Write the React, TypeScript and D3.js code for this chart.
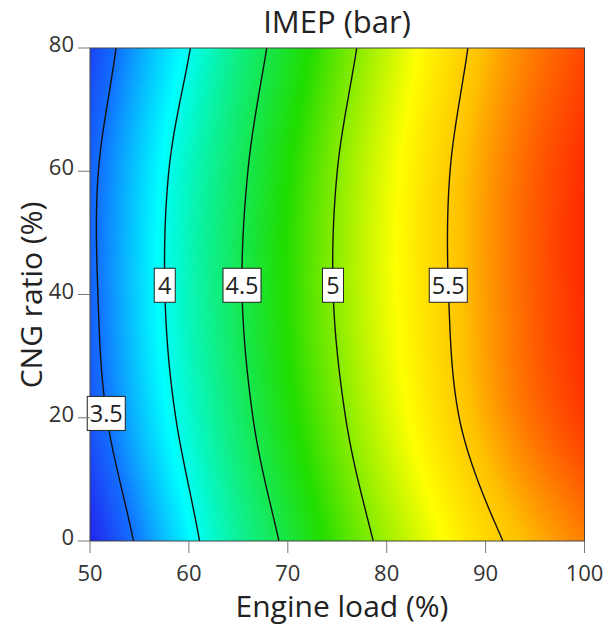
import React, { useMemo } from "react";
import * as d3 from "d3";

// Engine load grid (%) and CNG ratio rows (%)
const LOADS = [50, 55, 60, 65, 70, 75, 80, 85, 90, 95, 100];
const CNG = [0, 20, 40, 60, 80];

// IMEP (bar) along engine load, one array per CNG ratio row
const IMEP_CNG0 = [3.139, 3.548, 3.923, 4.265, 4.55, 4.83, 5.06, 5.27, 5.45, 5.58, 5.69];
const IMEP_CNG20 = [3.369, 3.748, 4.088, 4.41, 4.703, 4.958, 5.199, 5.412, 5.591, 5.732, 5.839];
const IMEP_CNG40 = [3.439, 3.818, 4.163, 4.477, 4.763, 5.02, 5.254, 5.454, 5.626, 5.767, 5.874];
const IMEP_CNG60 = [3.439, 3.798, 4.133, 4.442, 4.736, 5.0, 5.241, 5.448, 5.621, 5.762, 5.869];
const IMEP_CNG80 = [3.299, 3.673, 3.99, 4.33, 4.62, 4.898, 5.149, 5.377, 5.561, 5.702, 5.809];
const IMEP_ROWS = [IMEP_CNG0, IMEP_CNG20, IMEP_CNG40, IMEP_CNG60, IMEP_CNG80];

// Contour levels and where their labels sit (CNG ratio)
const CONTOUR_LEVELS = [3.5, 4, 4.5, 5, 5.5];
const LABEL_CNG = [20.7, 41.5, 41.5, 41.5, 41.5];

const X_TICKS = [50, 60, 70, 80, 90, 100];
const Y_TICKS = [0, 20, 40, 60, 80];

// Colour stops (IMEP value -> colour)
const COLOR_VALUES = [3.14, 3.5, 3.95, 4.75, 5.3, 5.55, 5.88];
const COLOR_STOPS = ["#2424ee", "#1470ff", "#00ffff", "#22dd00", "#ffff00", "#ffc000", "#ff2800"];

const W = 607;
const H = 633;
const FONT = "'Open Sans', 'Noto Sans', sans-serif";

function catmull(xs: number[], ys: number[], x: number): number {
  const n = ys.length;
  const dx = xs[1] - xs[0];
  const t = (x - xs[0]) / dx;
  let k = Math.floor(t);
  k = Math.max(0, Math.min(n - 2, k));
  const u = t - k;
  const p1 = ys[k];
  const p2 = ys[k + 1];
  const p0 = k - 1 >= 0 ? ys[k - 1] : 2 * p1 - p2;
  const p3 = k + 2 < n ? ys[k + 2] : 2 * p2 - p1;
  return (
    0.5 *
    (2 * p1 +
      (-p0 + p2) * u +
      (2 * p0 - 5 * p1 + 4 * p2 - p3) * u * u +
      (-p0 + 3 * p1 - 3 * p2 + p3) * u * u * u)
  );
}

function imepAt(load: number, cng: number): number {
  const col = IMEP_ROWS.map((row) => catmull(LOADS, row, load));
  return catmull(CNG, col, cng);
}

function crossing(level: number, cng: number): number {
  let lo = 40;
  let hi = 110;
  for (let i = 0; i < 50; i++) {
    const mid = (lo + hi) / 2;
    if (imepAt(mid, cng) < level) lo = mid;
    else hi = mid;
  }
  return (lo + hi) / 2;
}

export default function App() {
  const x = d3.scaleLinear().domain([50, 100]).range([90, 584.5]);
  const y = d3.scaleLinear().domain([0, 80]).range([541, 48]);
  const color = d3.scaleLinear<string>().domain(COLOR_VALUES).range(COLOR_STOPS).clamp(true);

  const { bands, lines } = useMemo(() => {
    const nx = 240;
    const ny = 240;
    const values: number[] = new Array(nx * ny);
    let vmin = Infinity;
    let vmax = -Infinity;
    for (let j = 0; j < ny; j++) {
      const cng = 80 - ((j + 0.5) / ny) * 80;
      for (let i = 0; i < nx; i++) {
        const load = 50 + ((i + 0.5) / nx) * 50;
        const v = imepAt(load, cng);
        values[j * nx + i] = v;
        if (v < vmin) vmin = v;
        if (v > vmax) vmax = v;
      }
    }
    const x0 = x.range()[0];
    const x1 = x.range()[1];
    const y0 = y.range()[1];
    const y1 = y.range()[0];
    const sx = (x1 - x0) / nx;
    const sy = (y1 - y0) / ny;
    const proj = d3.geoTransform({
      point(px: number, py: number) {
        (this as any).stream.point(x0 + px * sx, y0 + py * sy);
      },
    });
    const path = d3.geoPath(proj);
    const step = 0.008;
    const thresholds = d3.range(Math.floor(vmin / step) * step, vmax, step);
    const contours = d3.contours().size([nx, ny]).thresholds(thresholds)(values);
    const bands = contours.map((c) => ({
      d: path(c as any) || "",
      fill: color(c.value + step / 2),
    }));

    const cngSamples = d3.range(0, 80.0001, 0.5);
    const line = d3
      .line<[number, number]>()
      .x((p) => x(p[0]))
      .y((p) => y(p[1]));
    const lines = CONTOUR_LEVELS.map((level, k) => {
      const pts: [number, number][] = cngSamples.map((c) => [crossing(level, c), c]);
      const labelLoad = crossing(level, LABEL_CNG[k]);
      return { level, d: line(pts) || "", lx: x(labelLoad), ly: y(LABEL_CNG[k]) };
    });
    return { bands, lines };
  }, []);

  const [px0, px1] = x.range();
  const [py1, py0] = y.range();

  return (
    <svg width={W} height={H} style={{ position: "absolute", left: 0, top: 0 }} fontFamily={FONT}>
      <rect width={W} height={H} fill="#ffffff" />
      <defs>
        <clipPath id="plot-clip">
          <rect x={px0} y={py0} width={px1 - px0} height={py1 - py0} />
        </clipPath>
      </defs>
      <g clipPath="url(#plot-clip)">
        <rect x={px0} y={py0} width={px1 - px0} height={py1 - py0} fill={color(3.14)} />
        {bands.map((b, i) => (
          <path key={i} d={b.d} fill={b.fill} stroke={b.fill} strokeWidth={0.4} />
        ))}
        {lines.map((l) => (
          <path key={l.level} d={l.d} fill="none" stroke="#111" strokeWidth={1.4} />
        ))}
      </g>
      <rect x={px0} y={py0} width={px1 - px0} height={py1 - py0} fill="none" stroke="#444" strokeWidth={1} />

      {/* contour labels */}
      {lines.map((l) => {
        const txt = String(l.level);
        const bw = txt.length === 1 ? 21 : 38;
        const bh = 34;
        return (
          <g key={"lab" + l.level}>
            <rect x={l.lx - bw / 2} y={l.ly - bh / 2} width={bw} height={bh} fill="#fff" stroke="#222" strokeWidth={1} />
            <text x={l.lx} y={l.ly + 8.5} textAnchor="middle" fontSize={23.5} fill="#222">
              {txt}
            </text>
          </g>
        );
      })}

      {/* x axis */}
      {X_TICKS.map((t) => (
        <g key={"xt" + t}>
          <line x1={x(t)} x2={x(t)} y1={py1} y2={py1 + 12} stroke="#777" strokeWidth={1} />
          <text x={x(t)} y={581} textAnchor="middle" fontSize={22} fill="#333">
            {t}
          </text>
        </g>
      ))}
      {/* y axis */}
      {Y_TICKS.map((t) => (
        <g key={"yt" + t}>
          <line x1={px0 - 12} x2={px0} y1={y(t)} y2={y(t)} stroke="#777" strokeWidth={1} />
          <text x={74} y={y(t) + 4} textAnchor="end" fontSize={22} fill="#333">
            {t}
          </text>
        </g>
      ))}

      <text x={337} y={33} textAnchor="middle" fontSize={31} fill="#222">
        IMEP (bar)
      </text>
      <text x={342} y={617} textAnchor="middle" fontSize={30} fill="#222">
        Engine load (%)
      </text>
      <text transform="translate(42,295) rotate(-90)" textAnchor="middle" fontSize={30} fill="#222">
        CNG ratio (%)
      </text>
    </svg>
  );
}
